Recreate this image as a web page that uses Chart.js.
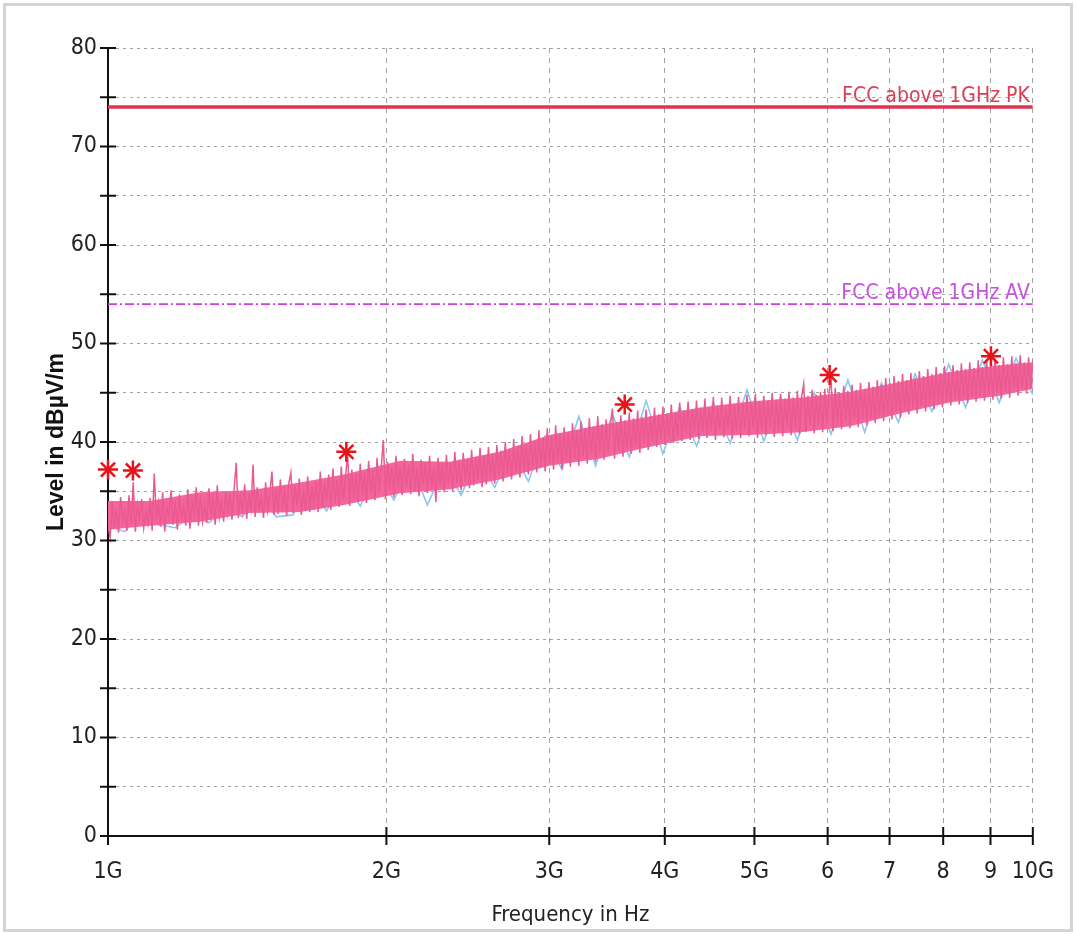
<!DOCTYPE html>
<html>
<head>
<meta charset="utf-8">
<script src="https://cdn.jsdelivr.net/npm/chart.js@4.4.0/dist/chart.umd.min.js"></script>
<style>
  body { margin: 0; background: #fff; }
  #wrap { position: relative; width: 1076px; height: 934px; }
  #frame { position: absolute; left: 3px; top: 3px; right: 3px; bottom: 2px; border: 3px solid #d4d4d4; pointer-events: none; }
</style>
</head>
<body>
<div id="wrap">
  <canvas id="emc" width="1076" height="934"></canvas>
  <div id="frame"></div>
</div>
<script>
// sweep range and axis ticks
const F_START = 1e9
const F_STOP = 1e10
const xTickValues = [1e9, 2e9, 3e9, 4e9, 5e9, 6e9, 7e9, 8e9, 9e9, 1e10]
const xTickLabels = ['1G', '2G', '3G', '4G', '5G', '6', '7', '8', '9', '10G']

// limit lines (dBuV/m)
const pkLimit = 74
const avLimit = 54

// horizontal trace, 441 sweep points
const horLevel = [
  31.5, 30.3, 34.0, 31.2, 33.2, 30.8, 34.4, 32.0, 33.0, 31.0, 34.6, 31.6, 35.9, 30.9, 33.6, 32.1, 34.2, 31.3, 32.9, 31.7,
  34.3, 31.0, 36.8, 32.2, 33.8, 31.4, 34.9, 30.9, 33.4, 32.5, 35.1, 31.6, 34.0, 31.1, 34.7, 32.3, 33.5, 31.5, 35.2, 31.2,
  34.1, 32.6, 35.4, 31.5, 34.6, 32.0, 33.7, 31.8, 35.3, 32.7, 34.4, 31.6, 35.6, 32.4, 33.9, 31.9, 35.0, 32.8, 34.8, 32.1,
  35.2, 37.9, 32.3, 34.5, 33.0, 35.7, 32.2, 34.9, 32.9, 37.7, 32.4, 35.4, 33.2, 34.3, 32.3, 35.9, 33.1, 34.8, 37.0, 32.6,
  35.3, 32.7, 36.2, 33.4, 35.0, 32.5, 35.8, 36.9, 32.8, 35.6, 33.5, 36.3, 32.6, 34.9, 33.0, 36.5, 32.9, 35.5, 33.6, 36.0,
  32.9, 37.0, 33.3, 35.9, 34.0, 36.7, 33.1, 37.3, 33.8, 36.2, 33.4, 37.5, 34.1, 36.4, 38.9, 33.5, 37.2, 34.3, 36.8, 33.9,
  37.8, 34.5, 36.9, 33.8, 38.1, 34.8, 37.2, 34.1, 38.4, 35.0, 37.4, 40.2, 34.2, 38.0, 35.1, 37.5, 34.4, 38.6, 35.3, 37.6,
  34.6, 38.3, 35.4, 37.7, 34.7, 38.8, 35.0, 37.3, 34.5, 38.2, 35.6, 37.9, 34.8, 38.6, 35.2, 37.5, 33.9, 38.4, 35.5, 37.8,
  34.9, 38.7, 35.7, 37.9, 35.0, 39.0, 35.8, 38.2, 35.1, 38.9, 36.0, 38.3, 35.3, 39.2, 35.6, 38.5, 36.2, 39.4, 35.4, 38.6,
  35.7, 39.5, 36.3, 38.8, 35.8, 39.7, 36.6, 39.1, 36.0, 40.0, 36.8, 39.3, 36.2, 40.3, 36.9, 39.6, 36.4, 40.6, 37.1, 39.8,
  36.7, 40.8, 37.3, 40.1, 36.9, 41.2, 37.5, 40.4, 37.0, 41.4, 37.8, 40.6, 37.2, 41.7, 37.9, 40.9, 37.3, 41.5, 38.1, 41.0,
  37.5, 41.9, 38.3, 41.2, 37.6, 42.1, 38.5, 41.4, 37.8, 42.4, 38.7, 41.6, 38.0, 42.6, 38.9, 41.8, 38.2, 42.3, 39.0, 41.7,
  43.4, 38.3, 42.0, 39.1, 42.7, 38.5, 42.2, 39.3, 43.0, 38.8, 42.4, 39.6, 43.2, 38.9, 42.5, 39.8, 43.3, 39.2, 42.6, 40.0,
  43.5, 39.5, 42.8, 40.2, 43.6, 39.7, 42.9, 40.4, 43.8, 39.9, 43.0, 40.6, 44.0, 40.1, 43.2, 40.8, 44.1, 40.2, 43.3, 40.9,
  44.2, 40.3, 43.4, 41.0, 44.4, 40.4, 43.5, 41.1, 44.6, 40.2, 43.7, 41.2, 44.5, 40.5, 43.6, 41.3, 44.7, 40.3, 43.8, 41.0,
  44.6, 40.4, 43.9, 41.3, 44.8, 40.6, 44.0, 41.4, 44.9, 40.4, 44.1, 41.2, 44.7, 40.7, 44.2, 41.5, 45.0, 40.5, 44.3, 41.1,
  44.9, 40.6, 44.4, 41.6, 45.1, 40.7, 44.5, 41.4, 45.2, 40.8, 44.6, 45.9, 41.0, 44.7, 41.7, 45.3, 40.9, 44.8, 41.8, 45.1,
  41.0, 45.4, 41.9, 44.9, 46.6, 41.1, 45.5, 42.0, 45.0, 41.3, 45.7, 42.1, 45.2, 41.4, 45.8, 42.2, 45.3, 41.5, 46.0, 42.3,
  45.4, 41.7, 46.1, 42.4, 45.6, 41.9, 46.3, 42.6, 45.8, 42.1, 46.5, 42.8, 46.0, 42.3, 46.7, 43.0, 46.2, 42.5, 46.9, 43.2,
  46.3, 42.8, 47.0, 43.4, 46.5, 42.9, 47.2, 43.6, 46.7, 43.1, 47.4, 43.8, 46.9, 43.3, 47.6, 44.0, 47.0, 43.5, 47.7, 44.1,
  47.1, 43.7, 47.8, 44.3, 47.3, 43.8, 48.0, 44.5, 47.4, 44.0, 48.1, 44.6, 47.5, 44.1, 48.3, 44.7, 47.6, 44.2, 48.4, 44.8,
  47.7, 44.3, 48.5, 45.0, 47.8, 44.4, 48.6, 45.1, 47.9, 44.5, 48.7, 45.3, 48.0, 44.7, 48.8, 45.4, 48.1, 44.9, 48.6, 45.5,
  48.3
]

// vertical trace, 56 sweep points
const verLevel = [
  31.5, 30.9, 33.0, 31.6, 31.3, 32.6, 31.8, 33.5, 32.4, 34.8,
  32.4, 32.6, 35.5, 33.0, 36.2, 33.5, 37.0, 34.1, 37.8, 33.6,
  37.5, 34.6, 38.4, 35.4, 39.2, 36.0, 40.6, 37.2, 42.6, 37.6,
  42.8, 38.5, 44.2, 38.8, 43.6, 39.6, 44.0, 39.9, 45.3, 40.1,
  44.6, 40.2, 45.0, 40.8, 46.3, 41.0, 46.0, 42.0, 46.9, 43.1,
  47.9, 43.5, 48.3, 44.0, 48.5, 44.8
]

// solid core of the noise band (GHz, dBuV/m)
const bandFreq = [1.0, 1.11, 1.257, 1.424, 1.613, 1.799, 2.07, 2.342, 2.65, 3.0,
                  3.4, 3.76, 4.37, 4.94, 5.61, 6.35, 7.18, 8.13, 9.21, 10.0]
const bandUpper = [34.0, 34.0, 34.9, 35.1, 35.9, 36.7, 38.1, 38.0, 39.0, 40.7,
                   41.7, 42.4, 43.5, 44.1, 44.5, 45.1, 46.1, 47.1, 47.8, 48.1]
const bandLower = [31.1, 31.5, 31.9, 32.8, 32.9, 33.6, 34.8, 35.2, 36.2, 37.6,
                   38.3, 39.3, 40.6, 40.7, 41.0, 41.6, 42.9, 44.0, 44.7, 45.4]

// peak markers
const markerFreq = [1.0e9, 1.064e9, 1.81e9, 3.62e9, 6.03e9, 9.01e9]
const markerLevel = [37.2, 37.1, 39.0, 43.8, 46.8, 48.7]

const narrow = "'Liberation Sans Narrow', 'Arial Narrow', 'DejaVu Sans Condensed', sans-serif"

// log spaced frequency grid for a sweep of n points
const sweep = (n) => {
  var f = []
  for (let i = 0; i < n; i++) {
    f.push(F_START * Math.pow(F_STOP / F_START, i / (n - 1)))
  }
  return f
}
const toXY = (freqs, levels) => freqs.map((f, i) => ({ x: f, y: levels[i] }))

const horFreq = sweep(horLevel.length)
const verFreq = sweep(verLevel.length)

// limit names written over their line, right aligned
const limitText = {
  id: 'limitText',
  afterDatasetsDraw(chart) {
    const ctx = chart.ctx
    chart.data.datasets.forEach((ds, i) => {
      if (!ds.tag) return
      const pts = chart.getDatasetMeta(i).data
      const p = pts[pts.length - 1]
      ctx.save()
      ctx.font = '21px ' + narrow
      ctx.fillStyle = ds.tagColor
      ctx.textAlign = 'right'
      ctx.textBaseline = 'alphabetic'
      ctx.fillText(ds.tag, p.x - 3, p.y - 5)
      ctx.restore()
    })
  }
}

// tick marks crossing both axes
const crossTicks = {
  id: 'crossTicks',
  afterDraw(chart) {
    const { ctx, scales: { x, y } } = chart
    ctx.save()
    ctx.strokeStyle = '#111'
    ctx.lineWidth = 2
    x.ticks.forEach(t => {
      const px = x.getPixelForValue(t.value)
      ctx.beginPath(); ctx.moveTo(px, y.bottom - 9); ctx.lineTo(px, y.bottom + 9); ctx.stroke()
    })
    y.ticks.forEach(t => {
      const py = y.getPixelForValue(t.value)
      ctx.beginPath(); ctx.moveTo(x.left - 8, py); ctx.lineTo(x.left + 8, py); ctx.stroke()
    })
    ctx.restore()
  }
}

const data = {
  datasets: [
    {
      label: 'markers',
      data: toXY(markerFreq, markerLevel),
      showLine: false,
      pointStyle: 'star',
      pointRadius: 10,
      borderColor: '#e8141c',
      backgroundColor: '#e8141c',
      pointBorderWidth: 2.5,
      clip: false,
      order: 0
    },
    {
      label: 'PK',
      tag: 'FCC above 1GHz PK',
      tagColor: '#d8405a',
      data: [{ x: F_START, y: pkLimit }, { x: F_STOP, y: pkLimit }],
      borderColor: '#e0334f',
      borderWidth: 3.5,
      pointRadius: 0,
      order: 1
    },
    {
      label: 'AV',
      tag: 'FCC above 1GHz AV',
      tagColor: '#c850e0',
      data: [{ x: F_START, y: avLimit }, { x: F_STOP, y: avLimit }],
      borderColor: '#cc3fe0',
      borderWidth: 1.6,
      borderDash: [9, 3, 2, 3],
      pointRadius: 0,
      order: 1
    },
    {
      label: 'Hor',
      data: toXY(horFreq, horLevel),
      borderColor: '#ea5990',
      borderWidth: 1.5,
      pointRadius: 0,
      order: 2
    },
    {
      label: 'bandTop',
      data: toXY(bandFreq.map(f => f * 1e9), bandUpper),
      borderWidth: 0,
      pointRadius: 0,
      fill: '+1',
      backgroundColor: '#f3669b',
      order: 3
    },
    {
      label: 'bandBottom',
      data: toXY(bandFreq.map(f => f * 1e9), bandLower),
      borderWidth: 0,
      pointRadius: 0,
      order: 3
    },
    {
      label: 'Ver',
      data: toXY(verFreq, verLevel),
      borderColor: '#8cc6ee',
      borderWidth: 1.6,
      pointRadius: 0,
      order: 4
    }
  ]
}

const config = {
  type: 'line',
  data: data,
  options: {
    responsive: false,
    animation: false,
    devicePixelRatio: 1,
    layout: { padding: { left: 0, top: 48, right: 43, bottom: 0 } },
    plugins: {
      legend: { display: false },
      tooltip: { enabled: false }
    },
    elements: { line: { tension: 0 } },
    scales: {
      x: {
        type: 'logarithmic',
        min: F_START,
        max: F_STOP,
        afterBuildTicks: (s) => { s.ticks = xTickValues.map(v => ({ value: v })) },
        afterFit: (s) => { s.height = 98 },
        ticks: {
          autoSkip: false,
          maxRotation: 0,
          padding: 22,
          color: '#222',
          font: { family: narrow, size: 23 },
          callback: (v, i) => xTickLabels[i]
        },
        grid: { color: '#a0a0a0', lineWidth: 1, drawTicks: false },
        border: { color: '#111', width: 2, dash: [5, 5] },
        title: {
          display: true,
          text: 'Frequency in Hz',
          color: '#222',
          font: { family: narrow, size: 22 },
          padding: { top: 0, bottom: 6 }
        }
      },
      y: {
        min: 0,
        max: 80,
        afterFit: (s) => { s.width = 108 },
        ticks: {
          stepSize: 5,
          padding: 11,
          color: '#222',
          font: { family: narrow, size: 23 },
          callback: (v) => v % 10 === 0 ? String(v) : ''
        },
        grid: {
          color: (c) => c.tick && c.tick.value === 75 ? '#e58fb2' : '#a0a0a0',
          lineWidth: 1,
          drawTicks: false
        },
        border: { color: '#111', width: 2, dash: [3, 4] },
        title: {
          display: true,
          text: 'Level in dBµV/m',
          color: '#111',
          font: { family: "'Liberation Sans', Arial, sans-serif", size: 23, weight: 'bold' },
          padding: { top: 43, bottom: 0 }
        }
      }
    }
  },
  plugins: [limitText, crossTicks]
}

new Chart('emc', config)
</script>
</body>
</html>
